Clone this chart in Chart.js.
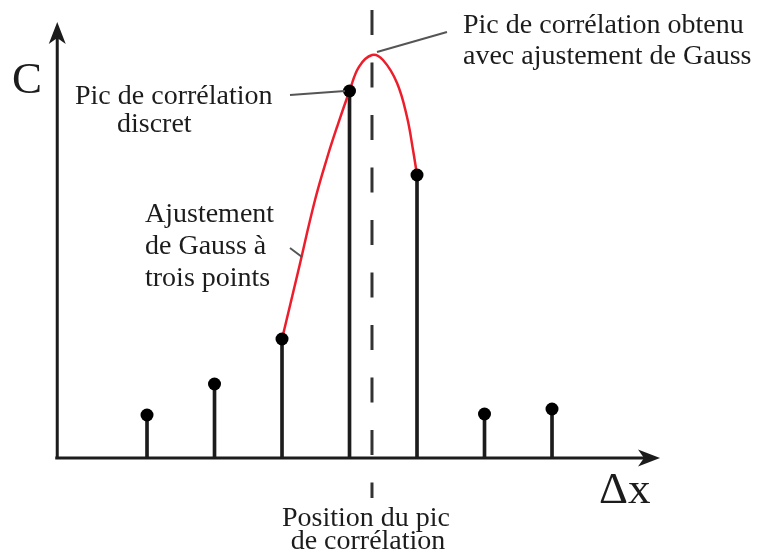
<!DOCTYPE html>
<html lang="fr">
<head>
<meta charset="utf-8">
<title>Pic de corrélation</title>
<script src="https://cdn.jsdelivr.net/npm/chart.js@4.4.1/dist/chart.umd.min.js"></script>
<style>
  html, body { margin: 0; padding: 0; background: #fff; }
  canvas { display: block; }
</style>
</head>
<body>
<canvas id="corrChart" width="762" height="556"></canvas>
<script>
// valeurs discrètes de corrélation
const deltaX = [1, 2, 3, 4, 5, 6, 7];
const correlation = [10.75, 18.5, 29.75, 91.75, 70.75, 11, 12.25];

// courbe d'ajustement de Gauss (trois points autour du pic)
const fitX = [3.0, 3.237, 3.489, 3.681, 3.815, 4.0, 4.14, 4.333, 4.496, 4.704, 4.852, 4.941, 5.0];
const fitC = [29.75, 46.5, 64.5, 75.75, 82.75, 91.75, 97.8, 100.75, 99.5, 93.75, 85.25, 77, 70.75];

// position du pic obtenue et étendue de la ligne pointillée
const peakX = 4.333;
const peakLine = [112, -10];

// extrémités des axes
const axisStart = { x: -0.33, y: 0 };
const axisEnd = { x: 8.6, y: 109 };

const ink = '#1c1c1c';
const serif = '"Liberation Serif", "Times New Roman", serif';

function arrowHead(ctx, x, y, dir) {
    // pointe de flèche légèrement creusée
    ctx.save();
    ctx.translate(x, y);
    ctx.rotate(dir);
    ctx.beginPath();
    ctx.moveTo(0, 0);
    ctx.lineTo(-22, -8.5);
    ctx.lineTo(-16, 0);
    ctx.lineTo(-22, 8.5);
    ctx.closePath();
    ctx.fillStyle = ink;
    ctx.fill();
    ctx.restore();
}

const axesPlugin = {
    id: 'axes',
    beforeDatasetsDraw(chart) {
        const { ctx, scales: { x, y } } = chart;
        const x0 = x.getPixelForValue(axisStart.x);
        const y0 = y.getPixelForValue(axisStart.y);
        const x1 = x.getPixelForValue(axisEnd.x);
        const y1 = y.getPixelForValue(axisEnd.y);
        ctx.save();
        ctx.strokeStyle = ink;
        ctx.lineWidth = 3;
        ctx.beginPath();
        ctx.moveTo(x0, y0);
        ctx.lineTo(x0, y1 + 12);
        ctx.moveTo(x0 - 2, y0);
        ctx.lineTo(x1 - 12, y0);
        ctx.stroke();
        ctx.restore();
        arrowHead(ctx, x0, y1, -Math.PI / 2);
        arrowHead(ctx, x1, y0, 0);
    }
};

const labelsPlugin = {
    id: 'labels',
    afterDatasetsDraw(chart) {
        const ctx = chart.ctx;
        ctx.save();

        // traits de rappel
        ctx.strokeStyle = '#555';
        ctx.lineWidth = 2;
        ctx.beginPath();
        ctx.moveTo(290, 95); ctx.lineTo(345, 91);
        ctx.moveTo(377, 52); ctx.lineTo(447, 32);
        ctx.moveTo(290, 248); ctx.lineTo(302, 257);
        ctx.stroke();

        ctx.fillStyle = ink;
        ctx.textBaseline = 'alphabetic';
        ctx.textAlign = 'left';

        ctx.font = '45px ' + serif;
        ctx.fillText('C', 12, 93);
        ctx.fillText('\u0394x', 599, 503);

        ctx.font = '28px ' + serif;
        ctx.fillText('Pic de corrélation', 75, 104);
        ctx.fillText('discret', 117, 132);

        ctx.fillText('Pic de corrélation obtenu', 463, 33);
        ctx.fillText('avec ajustement de Gauss', 463, 64);

        ctx.fillText('Ajustement', 145, 222);
        ctx.fillText('de Gauss à', 145, 254);
        ctx.fillText('trois points', 145, 286);

        ctx.textAlign = 'center';
        ctx.fillText('Position du pic', 366, 526);
        ctx.fillText('de corrélation', 368, 549);
        ctx.restore();
    }
};

const ctx = document.getElementById('corrChart').getContext('2d');
new Chart(ctx, {
    type: 'bar',
    data: {
        datasets: [
            {
                // points discrets
                type: 'scatter',
                data: deltaX.map((v, i) => ({ x: v, y: correlation[i] })),
                pointRadius: 6.5,
                pointBackgroundColor: '#000',
                pointBorderWidth: 0,
                order: 0
            },
            {
                // ajustement de Gauss
                type: 'line',
                data: fitX.map((v, i) => ({ x: v, y: fitC[i] })),
                borderColor: '#ee1d2b',
                borderWidth: 2.5,
                pointRadius: 0,
                tension: 0.4,
                order: 1
            },
            {
                // tiges
                type: 'bar',
                data: deltaX.map((v, i) => ({ x: v, y: correlation[i] })),
                backgroundColor: ink,
                barThickness: 3,
                order: 2
            },
            {
                // position du pic
                type: 'line',
                data: peakLine.map(v => ({ x: peakX, y: v })),
                borderColor: '#333',
                borderWidth: 3,
                borderDash: [25, 27.5],
                pointRadius: 0,
                order: 3
            }
        ]
    },
    options: {
        responsive: false,
        animation: false,
        devicePixelRatio: 1,
        layout: { padding: 0, autoPadding: false },
        plugins: {
            legend: { display: false },
            tooltip: { enabled: false }
        },
        scales: {
            x: { type: 'linear', display: false, offset: false, min: -1.178, max: 10.111 },
            y: { type: 'linear', display: false, min: -24.5, max: 114.5 }
        }
    },
    plugins: [axesPlugin, labelsPlugin]
});
</script>
</body>
</html>
